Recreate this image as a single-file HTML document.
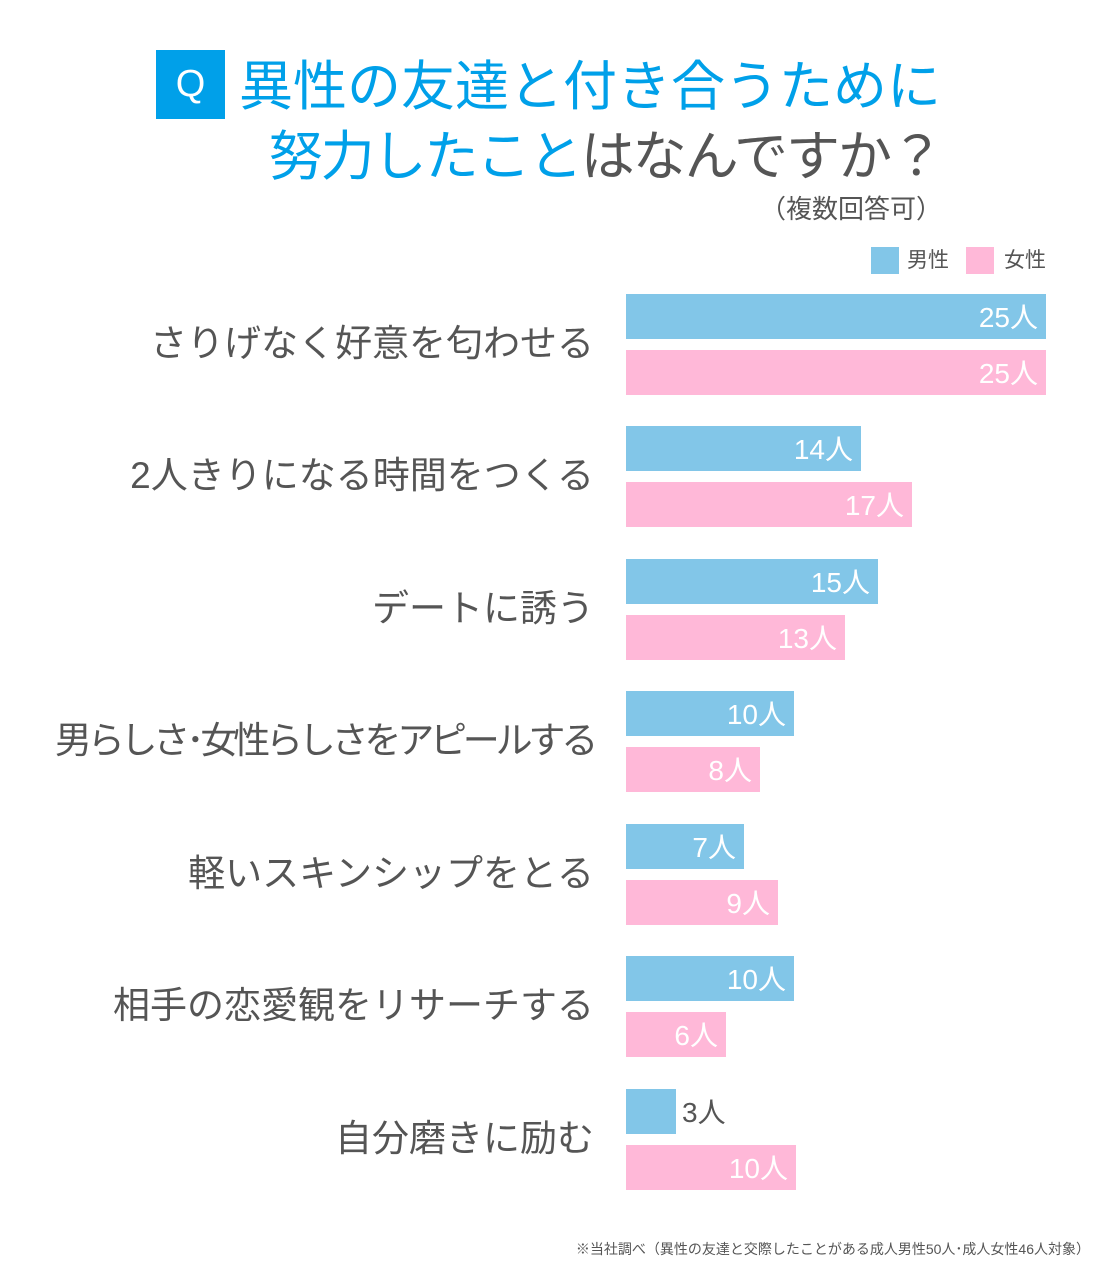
<!DOCTYPE html>
<html><head><meta charset="utf-8"><style>
body{margin:0;width:1100px;height:1265px;background:#fff;position:relative;overflow:hidden;font-family:"Liberation Sans","Noto Sans CJK JP",sans-serif;color:#555}
.a{position:absolute;white-space:nowrap}
.bar{position:absolute;left:626px;height:45px}
.m{background:#82c6e8}.f{background:#ffb8d8}
.v{position:absolute;right:8px;top:1px;line-height:45px;font-size:28px;color:#fff;white-space:nowrap}
.lab{position:absolute;right:506px;font-size:37px;line-height:40px;text-align:right;white-space:nowrap}
</style></head><body>
<div class="a" style="left:156px;top:50px;width:69px;height:69px;background:#00a0e9;color:#fff;font-size:38px;line-height:69px;text-align:center">Q</div>
<div class="a" style="left:239px;top:54px;font-size:54px;line-height:66px;color:#00a0e9">異性の友達と付き合うために</div>
<div class="a" style="right:158px;top:124px;font-size:54px;line-height:66px;color:#00a0e9;letter-spacing:-2px">努力したこと<span style="color:#555">はなんですか？</span></div>
<div class="a" style="right:158px;top:193px;font-size:26px;line-height:32px">（複数回答可）</div>
<div class="a" style="left:871px;top:247px;width:28px;height:27px;background:#82c6e8"></div>
<div class="a" style="left:907px;top:247px;font-size:21px;line-height:27px">男性</div>
<div class="a" style="left:966px;top:247px;width:28px;height:27px;background:#ffb8d8"></div>
<div class="a" style="left:1004px;top:247px;font-size:21px;line-height:27px">女性</div>

<div class="lab" style="top:324px">さりげなく好意を匂わせる</div>
<div class="bar m" style="top:294px;width:420px"><span class="v">25人</span></div>
<div class="bar f" style="top:350px;width:420px"><span class="v">25人</span></div>

<div class="lab" style="top:456px">2人きりになる時間をつくる</div>
<div class="bar m" style="top:426px;width:235px"><span class="v">14人</span></div>
<div class="bar f" style="top:482px;width:286px"><span class="v">17人</span></div>

<div class="lab" style="top:589px">デートに誘う</div>
<div class="bar m" style="top:559px;width:252px"><span class="v">15人</span></div>
<div class="bar f" style="top:615px;width:219px"><span class="v">13人</span></div>

<div class="lab" style="top:721px;letter-spacing:-4.2px">男らしさ･女性らしさをアピールする</div>
<div class="bar m" style="top:691px;width:168px"><span class="v">10人</span></div>
<div class="bar f" style="top:747px;width:134px"><span class="v">8人</span></div>

<div class="lab" style="top:854px">軽いスキンシップをとる</div>
<div class="bar m" style="top:824px;width:118px"><span class="v">7人</span></div>
<div class="bar f" style="top:880px;width:152px"><span class="v">9人</span></div>

<div class="lab" style="top:986px">相手の恋愛観をリサーチする</div>
<div class="bar m" style="top:956px;width:168px"><span class="v">10人</span></div>
<div class="bar f" style="top:1012px;width:100px"><span class="v">6人</span></div>

<div class="lab" style="top:1119px">自分磨きに励む</div>
<div class="bar m" style="top:1089px;width:50px"><span class="v" style="right:auto;left:56px;color:#555">3人</span></div>
<div class="bar f" style="top:1145px;width:170px"><span class="v">10人</span></div>

<div class="a" style="right:10px;top:1240px;font-size:14px;line-height:18px">※当社調べ（異性の友達と交際したことがある成人男性50人･成人女性46人対象）</div>
</body></html>
